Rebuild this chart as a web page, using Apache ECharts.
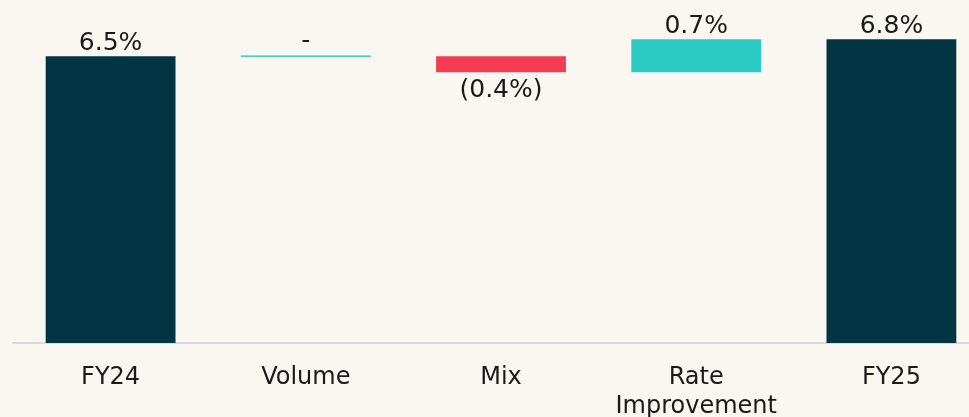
<!DOCTYPE html>
<html>
<head>
<meta charset="utf-8">
<script src="https://cdn.jsdelivr.net/npm/echarts@6/dist/echarts.min.js"></script>
<style>
	html, body { margin: 0; padding: 0; background: #FAF7F0; }
	#chart { width: 969px; height: 417px; }
</style>
</head>
<body>
<div id="chart"></div>
<script>
var categories = ["FY24", "Volume", "Mix", "Rate\nImprovement", "FY25"];
var startValue = 6.46;
// Volume, Mix, Rate Improvement
var changes = [0, -0.36, 0.74];
var endValue = 6.84;
var valueLabels = ["6.5%", "-", "(0.4%)", "0.7%", "6.8%"];

var DARK = "#023543";
var RED = "#F43C52";
var CYAN = "#2BCAC2";

function Waterfall(dom) {
	var myChart = echarts.init(dom, null, { renderer: "canvas" });

	// running base for the bridge bars
	var base = ["-"];
	var totals = [startValue];
	var ups = ["-"];
	var downs = ["-"];
	var flats = ["-"];
	var level = startValue;
	changes.forEach(function (c) {
		var next = level + c;
		base.push(Math.min(level, next));
		totals.push("-");
		ups.push(c > 0 ? c : "-");
		downs.push(c < 0 ? -c : "-");
		flats.push(c === 0 ? 0 : "-");
		level = next;
	});
	base.push("-");
	totals.push(endValue);
	ups.push("-");
	downs.push("-");
	flats.push("-");

	var labelStyle = {
		show: true,
		fontFamily: "DejaVu Sans",
		fontSize: 25,
		color: "#1a1a1a",
		distance: 0,
		formatter: function (p) { return valueLabels[p.dataIndex]; }
	};

	var option = {
		backgroundColor: "#FAF7F0",
		animation: false,
		grid: {
			left: 13, width: 976, top: 10, bottom: 74,
			containLabel: false,
			outerBoundsMode: "none"
		},
		xAxis: {
			type: "category",
			data: categories,
			axisLine: { lineStyle: { color: "#d9d9d9", width: 2 } },
			axisTick: { show: false },
			axisLabel: {
				interval: 0,
				hideOverlap: false,
				fontFamily: "DejaVu Sans",
				fontSize: 24,
				color: "#1a1a1a",
				margin: 20,
				lineHeight: 29
			}
		},
		yAxis: {
			type: "value",
			min: 0,
			max: 7.5,
			show: false,
			splitLine: { show: false }
		},
		series: [
			{
				type: "bar", stack: "w", barWidth: "66.5%",
				data: base,
				itemStyle: { color: "transparent" },
				silent: true
			},
			{
				type: "bar", stack: "w",
				data: totals,
				itemStyle: { color: DARK },
				label: Object.assign({ position: "top" }, labelStyle)
			},
			{
				type: "bar", stack: "w",
				data: flats,
				itemStyle: { color: CYAN, borderColor: CYAN, borderWidth: 1 },
				label: Object.assign({ position: "top" }, labelStyle, { distance: 2 })
			},
			{
				type: "bar", stack: "w",
				data: downs,
				itemStyle: { color: RED },
				label: Object.assign({ position: "bottom" }, labelStyle, { distance: 6 })
			},
			{
				type: "bar", stack: "w",
				data: ups,
				itemStyle: { color: CYAN },
				label: Object.assign({ position: "top" }, labelStyle)
			}
		]
	};
	myChart.setOption(option);
	window.addEventListener("resize", myChart.resize);
}

Waterfall(document.getElementById("chart"));
</script>
</body>
</html>
